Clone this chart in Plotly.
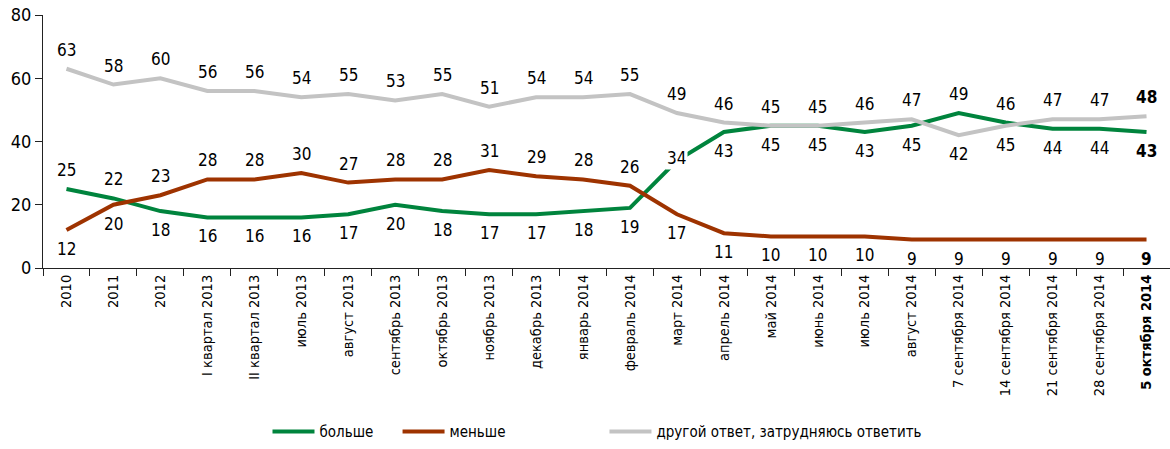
import plotly.graph_objects as go

categories = ["2010", "2011", "2012", "I квартал 2013", "II квартал 2013", "июль 2013",
              "август 2013", "сентябрь 2013", "октябрь 2013", "ноябрь 2013", "декабрь 2013",
              "январь 2014", "февраль 2014", "март 2014", "апрель 2014", "май 2014",
              "июнь 2014", "июль 2014", "август 2014", "7 сентября 2014", "14 сентября 2014",
              "21 сентября 2014", "28 сентября 2014", "5 октября 2014"]

bolshe = [25, 22, 18, 16, 16, 16, 17, 20, 18, 17, 17, 18, 19, 34, 43, 45, 45, 43, 45, 49, 46, 44, 44, 43]
menshe = [12, 20, 23, 28, 28, 30, 27, 28, 28, 31, 29, 28, 26, 17, 11, 10, 10, 10, 9, 9, 9, 9, 9, 9]
drugoy = [63, 58, 60, 56, 56, 54, 55, 53, 55, 51, 54, 54, 55, 49, 46, 45, 45, 46, 47, 42, 45, 47, 47, 48]

# label placement: a = above, b = below, c = on point
pos_bolshe = list("aabbbbbbbbbbbcbbbbbaabbb")
pos_menshe = list("bbaaaaaaaaaaabbbbbbbbbbb")
pos_drugoy = list("aaaaaaaaaaaaaaaaaaabbaaa")

FONT = "Liberation Sans Narrow, DejaVu Sans Condensed, Arial Narrow, sans-serif"
series = [
    ("больше", bolshe, pos_bolshe, "#00843D", "legend", 0.1992),
    ("меньше", menshe, pos_menshe, "#9E3300", "legend2", 0.3146),
    ("другой ответ, затрудняюсь ответить", drugoy, pos_drugoy, "#C3C3C3", "legend3", 0.4982),
]

idx = list(range(len(categories)))

fig = go.Figure()
annotations = []
legends = {}
for name, vals, pos, color, leg, lx in series:
    fig.add_trace(go.Scatter(x=idx, y=vals, mode="lines", name=name, legend=leg,
                             line=dict(color=color, width=4), hoverinfo="skip"))
    legends[leg] = dict(orientation="h", x=lx, xanchor="left", y=-0.647, yanchor="middle",
                        font=dict(family=FONT, size=15, color="black"), itemwidth=42,
                        bgcolor="rgba(0,0,0,0)")
    for i, v, p in zip(idx, vals, pos):
        last = i == len(categories) - 1
        txt = f"<b>{v}</b>" if last else str(v)
        shift = {"a": 19, "b": -19, "c": 2}[p]
        annotations.append(dict(x=i, y=v, text=txt, showarrow=False, yshift=shift,
                                font=dict(family=FONT, size=17, color="black"),
                                bgcolor="white" if p == "c" else "rgba(0,0,0,0)"))

ticktext = categories[:-1] + ["<b>" + categories[-1] + "</b>"]

fig.update_layout(
    width=1170, height=449,
    margin=dict(l=43, r=0, t=15, b=179),
    plot_bgcolor="white", paper_bgcolor="white",
    font=dict(family=FONT, size=16, color="black"),
    showlegend=True,
    hovermode=False,
    annotations=annotations,
    **legends,
)
fig.update_xaxes(range=[-0.5, len(categories) - 0.5], tickmode="array",
                 tickvals=idx, ticktext=ticktext, automargin=False,
                 tickangle=-90, showline=True, linecolor="#222222", linewidth=1,
                 ticks="", showgrid=False, zeroline=False, ticklabeloverflow="allow",
                 minor=dict(tickmode="array", tickvals=[i - 0.5 for i in idx] + [len(idx) - 0.5],
                            ticks="outside", ticklen=7, tickcolor="#222222", showgrid=False),
                 tickfont=dict(family=FONT, size=14.5, color="black"))
fig.update_yaxes(range=[0, 80], dtick=20, showline=True, linecolor="#222222", linewidth=1,
                 ticks="outside", ticklen=7, tickcolor="#222222", showgrid=False, zeroline=False,
                 automargin=False, ticklabeloverflow="allow",
                 tickfont=dict(family=FONT, size=18, color="black"))

fig.write_html("out.html", config={"displayModeBar": False},
               post_script="document.body.style.margin='0';document.body.style.overflow='hidden';")
